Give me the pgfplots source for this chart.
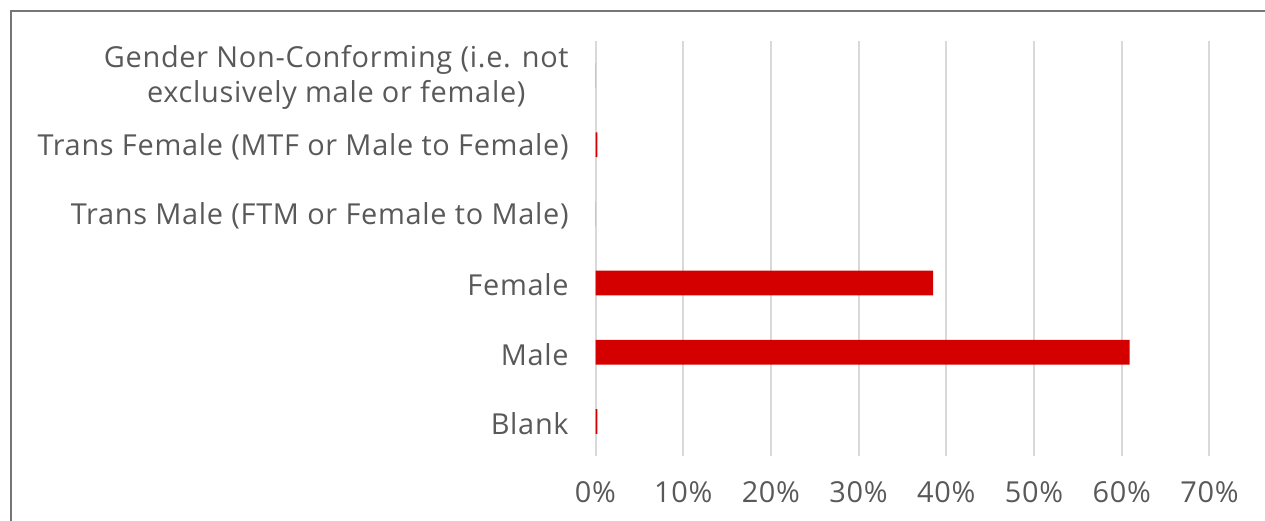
\documentclass[border=0pt]{standalone}
\usepackage{pgfplots}
\pgfplotsset{compat=1.18}
\usepackage{fontspec}
\setmainfont{Open Sans}[LetterSpace=2.5]
\definecolor{bartone}{RGB}{212,0,0}
\definecolor{labelgray}{RGB}{89,89,89}
\definecolor{gridgray}{RGB}{217,217,217}
\definecolor{framegray}{RGB}{118,118,118}

\begin{document}
\begin{tikzpicture}[x=1bp,y=1bp]
% page extent and the chart frame (open to the right and bottom)
\path[use as bounding box] (0,0) rectangle (632.5,260);
\draw[framegray, line width=0.8bp] (5.6,-5) -- (5.6,254.4) -- (640,254.4);
\begin{axis}[
  at={(297.75bp,32bp)}, anchor=south west,
  scale only axis, width=306.95bp, height=207.5bp,
  xmin=0, xmax=70, ymin=-0.5, ymax=5.5,
  xbar, bar width=12.35bp,
  axis line style={draw=none},
  major tick length=0pt,
  tick style={draw=none},
  xmajorgrids,
  grid style={gridgray, line width=1bp},
  xtick={0,10,...,70},
  xticklabel={\pgfmathprintnumber{\tick}\%},
  ytick={0,...,5},
  yticklabels={Blank, Male, Female,
    Trans Male (FTM or Female to Male),
    Trans Female (MTF or Male to Female),
    {Gender Non-Conforming (i.e. not\\exclusively male or female)}},
  ticklabel style={font=\fontsize{14.5}{17.4}\selectfont, text=labelgray},
  yticklabel style={align=center, anchor=east, xshift=-9.9bp, yshift=-1bp},
  xticklabel style={yshift=-9.5bp},
  /pgf/number format/assume math mode=true,
]
\addplot[fill=bartone, draw=none] coordinates {
  (0.2,0) (60.9,1) (38.5,2) (0,3) (0.2,4) (0,5)
};
\end{axis}
\end{tikzpicture}
\end{document}
